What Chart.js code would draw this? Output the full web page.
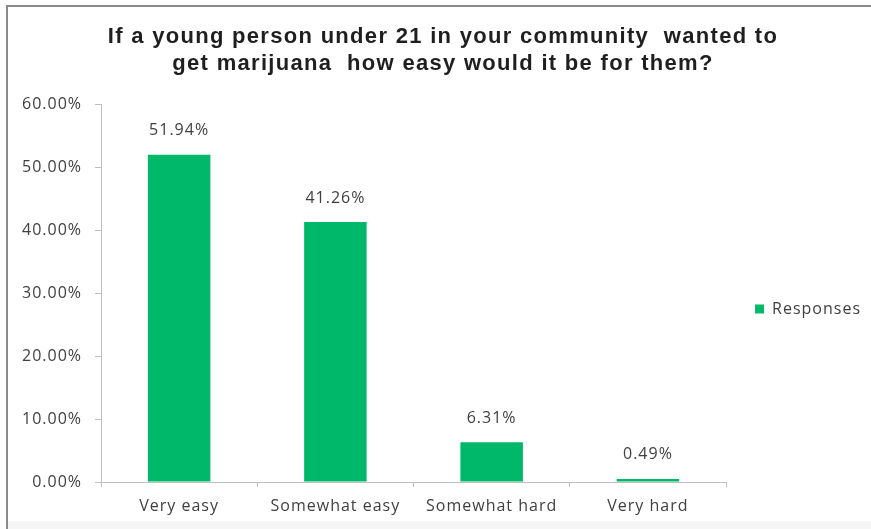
<!DOCTYPE html>
<html>
<head>
<meta charset="utf-8">
<script src="https://cdn.jsdelivr.net/npm/chart.js@4"></script>
<style>
html,body{margin:0;padding:0;background:#fff;}
#wrap{position:absolute;left:0;top:0;width:871px;height:529px;overflow:hidden;}
#frame{position:absolute;left:6px;top:5px;width:880px;height:540px;border-left:2px solid #8a8a8a;border-top:2px solid #8a8a8a;box-sizing:border-box;}
#foot{position:absolute;left:8px;top:521px;width:863px;height:8px;background:#f6f6f6;}
canvas{position:absolute;left:0;top:0;}
</style>
</head>
<body>
<div id="wrap">
<div id="frame"></div>
<div id="foot"></div>
<canvas id="c" width="871" height="529"></canvas>
</div>
<script>
const categories = ["Very easy", "Somewhat easy", "Somewhat hard", "Very hard"];
const responses = [51.94, 41.26, 6.31, 0.49];
const seriesName = "Responses";
const titleLines = ["If a young person under 21 in your community  wanted to", "get marijuana  how easy would it be for them?"];
const yTicks = [0, 10, 20, 30, 40, 50, 60];

const FONT = '"Open Sans", "Liberation Sans", sans-serif';

const spacingPlugin = {
  id: 'spacing',
  beforeUpdate(chart) { chart.ctx.letterSpacing = '1px'; },
  beforeDraw(chart) { chart.ctx.letterSpacing = '1px'; }
};

const titlePlugin = {
  id: 'customTitle',
  afterDraw(chart) {
    const ctx = chart.ctx;
    ctx.save();
    ctx.letterSpacing = '1.3px';
    ctx.font = 'bold 22px "Liberation Sans", Arial, sans-serif';
    ctx.fillStyle = '#1f1f1f';
    ctx.textAlign = 'center';
    ctx.textBaseline = 'middle';
    ctx.fillText(titleLines[0], 443, 37);
    ctx.fillText(titleLines[1], 443, 64);
    ctx.restore();
  }
};

const labelPlugin = {
  id: 'dataLabels',
  afterDatasetsDraw(chart) {
    const ctx = chart.ctx;
    const meta = chart.getDatasetMeta(0);
    ctx.save();
    ctx.letterSpacing = '1px';
    ctx.font = '16px ' + FONT;
    ctx.fillStyle = '#404040';
    ctx.textAlign = 'center';
    ctx.textBaseline = 'middle';
    meta.data.forEach((bar, i) => {
      ctx.fillText(responses[i].toFixed(2) + '%', bar.x, bar.y - 24);
    });
    ctx.restore();
  }
};

new Chart(document.getElementById('c'), {
  type: 'bar',
  data: {
    labels: categories,
    datasets: [{
      label: seriesName,
      data: responses,
      backgroundColor: '#00B869',
      borderWidth: 0,
      categoryPercentage: 1.0,
      barPercentage: 0.4
    }]
  },
  options: {
    responsive: false,
    animation: false,
    layout: { padding: { left: 0, right: 0, top: 104, bottom: 0 } },
    plugins: {
      title: { display: false },
      legend: {
        position: 'right',
        align: 'start',
        maxWidth: 148,
        title: { display: true, text: ' ', font: { size: 10, lineHeight: 1 }, padding: { top: 158, bottom: 0 } },
        labels: {
          boxWidth: 9,
          boxHeight: 9,
          padding: 29,
          color: '#404040',
          font: { family: FONT, size: 16 }
        }
      },
      tooltip: { enabled: false }
    },
    scales: {
      x: {
        afterFit(scale) { scale.height = 47; },
        grid: { display: true, drawOnChartArea: false, offset: true, color: '#bfbfbf', tickLength: 5 },
        border: { color: '#bfbfbf' },
        ticks: { color: '#404040', padding: 10, font: { family: FONT, size: 16 } }
      },
      y: {
        min: 0, max: 60,
        afterFit(scale) { scale.width = 101; },
        afterBuildTicks(scale) { scale.ticks = yTicks.map(v => ({ value: v })); },
        grid: { display: true, drawOnChartArea: false, color: '#bfbfbf', tickLength: 6 },
        border: { color: '#bfbfbf' },
        ticks: {
          color: '#404040', padding: 13,
          font: { family: FONT, size: 16 },
          callback: v => v.toFixed(2) + '%'
        }
      }
    }
  },
  plugins: [spacingPlugin, labelPlugin, titlePlugin]
});
</script>
</body>
</html>
